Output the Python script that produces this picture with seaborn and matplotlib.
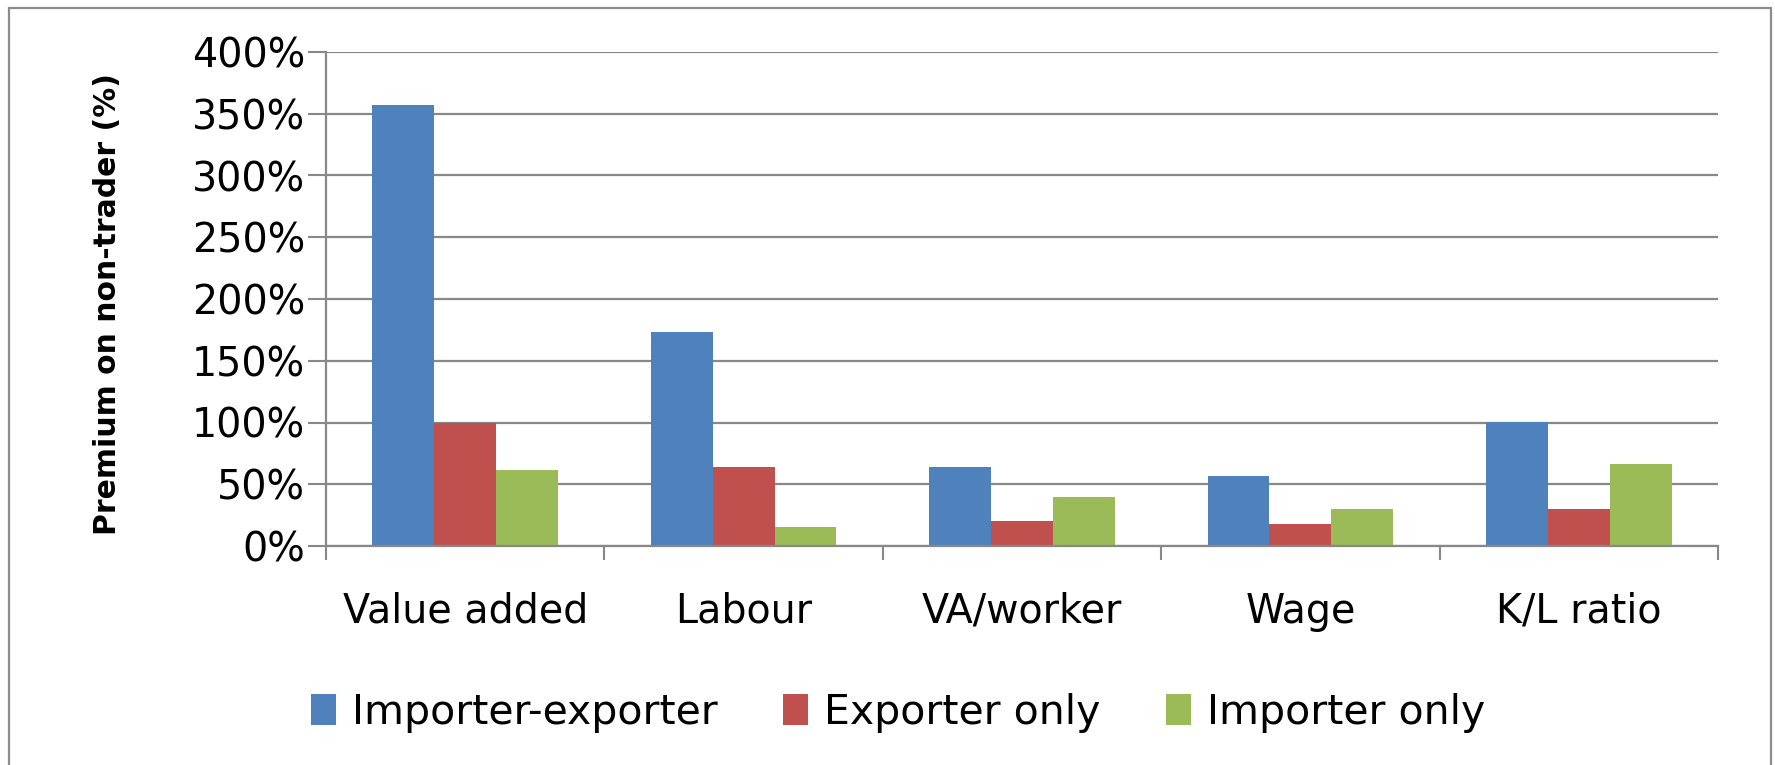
import matplotlib
matplotlib.use("Agg")
import matplotlib.pyplot as plt
import matplotlib.patches as mpatches
import seaborn as sns
import pandas as pd

categories = ["Value added", "Labour", "VA/worker", "Wage", "K/L ratio"]
series_names = ["Importer-exporter", "Exporter only", "Importer only"]
importer_exporter = [357, 173, 64, 56.5, 100.5]
exporter_only = [100, 64, 20, 17.7, 29.6]
importer_only = [61.3, 15.2, 39.7, 29.6, 66.3]
y_ticks = [0, 50, 100, 150, 200, 250, 300, 350, 400]
colors = ["#4F81BD", "#C0504D", "#9BBB59"]

rows = []
for name, vals in zip(series_names, [importer_exporter, exporter_only, importer_only]):
    for cat, v in zip(categories, vals):
        rows.append({"category": cat, "series": name, "value": v})
df = pd.DataFrame(rows)

sns.set_style("white")
plt.rcParams["font.family"] = ["DejaVu Sans"]
plt.rcParams["text.color"] = "black"
plt.rcParams["axes.labelcolor"] = "black"
plt.rcParams["xtick.labelcolor"] = "black"
plt.rcParams["ytick.labelcolor"] = "black"

fig = plt.figure(figsize=(17.75, 7.65), dpi=100)
ax = fig.add_axes([326/1775, 1-546/765, (1718-326)/1775, (546-52)/765])

sns.barplot(data=df, x="category", y="value", hue="series", order=categories,
            hue_order=series_names, palette=colors, width=0.667, saturation=1,
            linewidth=0, ax=ax)

grid_c = "#888888"
ax.set_ylim(0, 400)
ax.set_xlim(-0.5, len(categories) - 0.5)
ax.set_yticks(y_ticks)
ax.set_yticklabels([f"{t}%" for t in y_ticks], fontsize=28.5, color="black")
ax.yaxis.grid(True, color=grid_c, linewidth=1.6)
ax.set_axisbelow(True)
ax.tick_params(axis="y", length=13, width=1.5, color=grid_c, pad=2, left=True)

# x: boundary ticks (major, no label), category labels (minor)
ax.set_xticks([i - 0.5 for i in range(len(categories) + 1)])
ax.set_xticklabels([])
ax.set_xticks(range(len(categories)), minor=True)
ax.set_xticklabels(categories, minor=True, fontsize=28.5, color="black")
ax.tick_params(axis="x", which="major", length=10, width=1.5, color=grid_c, direction="out", bottom=True)
ax.tick_params(axis="x", which="minor", length=0, pad=33)

for s in ["top", "right"]:
    ax.spines[s].set_visible(False)
for s in ["left", "bottom"]:
    ax.spines[s].set_color(grid_c)
    ax.spines[s].set_linewidth(1.6)

ax.set_xlabel("")
ax.set_ylabel("Premium on non-trader (%)", fontsize=21.5, fontweight="bold", color="black")
ax.yaxis.set_label_coords(-0.157, 0.49)
ax.yaxis.label.set_verticalalignment("center")

handles, labels = ax.get_legend_handles_labels()
if ax.get_legend() is not None:
    ax.get_legend().remove()
fig.legend(handles, labels, loc="center", bbox_to_anchor=(0.506, 1-713/765), ncol=3,
           frameon=False, fontsize=29.5, handlelength=0.6, handleheight=0.8,
           handletextpad=0.4, columnspacing=1.6, labelcolor="black")

border = mpatches.Rectangle((9/1775, -0.1), (1771-9)/1775, 1.1 - 8/765,
                            transform=fig.transFigure, fill=False,
                            edgecolor="#8c8c8c", linewidth=1.6)
fig.patches.append(border)

fig.savefig("out.png", dpi=100, facecolor="white")
